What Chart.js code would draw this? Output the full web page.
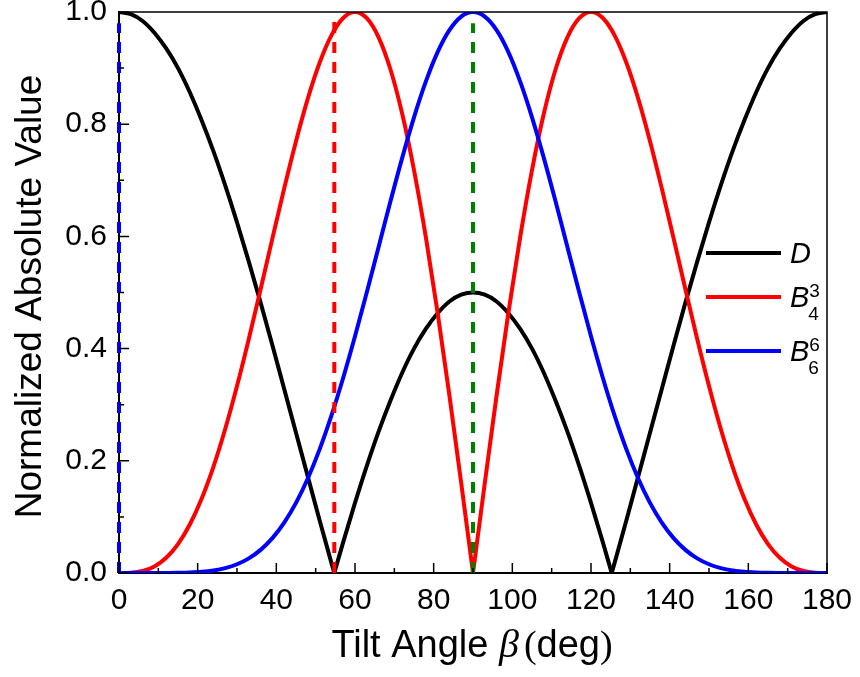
<!DOCTYPE html>
<html><head><meta charset="utf-8">
<script src="https://cdn.jsdelivr.net/npm/chart.js@4.4.1/dist/chart.umd.min.js"></script>
<style>html,body{margin:0;padding:0;background:#fff}#wrap{width:860px;height:677px}</style>
</head><body><div id="wrap"><canvas id="c" width="860" height="677"></canvas></div>
<script>
// ---- data ----
const angles = [0,3,6,9,12,15,18,21,24,27,30,33,36,39,42,45,48,51,54,57,60,63,66,69,72,75,78,81,84,87,90,93,96,99,102,105,108,111,114,117,120,123,126,129,132,135,138,141,144,147,150,153,156,159,162,165,168,171,174,177,180];
const valuesB4 = [0,0.0004,0.0035,0.0116,0.0271,0.0516,0.0864,0.1323,0.1893,0.2567,0.3333,0.4172,0.5059,0.5964,0.6856,0.7698,0.8456,0.9095,0.9584,0.9893,1,0.9889,0.9549,0.8979,0.8185,0.7182,0.5991,0.4641,0.3166,0.1605,0,0.1605,0.3166,0.4641,0.5991,0.7182,0.8185,0.8979,0.9549,0.9889,1,0.9893,0.9584,0.9095,0.8456,0.7698,0.6856,0.5964,0.5059,0.4172,0.3333,0.2567,0.1893,0.1323,0.0864,0.0516,0.0271,0.0116,0.0035,0.0004,0];
const valuesB6 = [0,0,0,0,0.0001,0.0003,0.0009,0.0021,0.0045,0.0088,0.0156,0.0261,0.0412,0.0621,0.0898,0.125,0.1684,0.2203,0.2804,0.348,0.4219,0.5004,0.5813,0.6621,0.74,0.8122,0.8758,0.9284,0.9676,0.9918,1,0.9918,0.9676,0.9284,0.8758,0.8122,0.74,0.6621,0.5813,0.5004,0.4219,0.348,0.2804,0.2203,0.1684,0.125,0.0898,0.0621,0.0412,0.0261,0.0156,0.0088,0.0045,0.0021,0.0009,0.0003,0.0001,0,0,0,0];
const anglesD = [0,3,6,9,12,15,18,21,24,27,30,33,36,39,42,45,48,51,54,54.74,57,60,63,66,69,72,75,78,81,84,87,90,93,96,99,102,105,108,111,114,117,120,123,125.26,126,129,132,135,138,141,144,147,150,153,156,159,162,165,168,171,174,177,180];
const valuesD = [1,0.996,0.984,0.963,0.935,0.9,0.857,0.807,0.752,0.691,0.625,0.555,0.482,0.406,0.328,0.25,0.172,0.094,0.018,0,0.055,0.125,0.191,0.252,0.307,0.357,0.4,0.435,0.463,0.484,0.496,0.5,0.496,0.484,0.463,0.435,0.4,0.357,0.307,0.252,0.191,0.125,0.055,0,0.018,0.094,0.172,0.25,0.328,0.406,0.482,0.555,0.625,0.691,0.752,0.807,0.857,0.9,0.935,0.963,0.984,0.996,1];
const markerAngles = [0, 54.74, 90];
const markerTops = [0.98, 0.985, 0.98];
const markerColors = ['#0000ff', '#ff0000', '#008000'];
const xMajorTicks = [0,20,40,60,80,100,120,140,160,180];
const xMinorTicks = [10,30,50,70,90,110,130,150,170];
const yMajorTicks = [0,0.2,0.4,0.6,0.8,1.0];
const yMinorTicks = [0.1,0.3,0.5,0.7,0.9];
const legendItems = [
  {base:'D', sup:'', sub:'', color:'#000000'},
  {base:'B', sup:'3', sub:'4', color:'#ff0000'},
  {base:'B', sup:'6', sub:'6', color:'#0000ff'}
];

const SANS = "'Liberation Sans', Arial, sans-serif";
const SERIF = "'Liberation Serif', 'Times New Roman', serif";

const toPts = (xs, ys) => xs.map((x, i) => ({x, y: ys[i]}));
// split a curve at its sharp zero-crossings (cusps) so each smooth branch is interpolated separately
function branches(xs, ys, cuspXs) {
  const pts = toPts(xs, ys);
  const out = [];
  let cur = [];
  pts.forEach(p => {
    cur.push(p);
    if (cuspXs.includes(p.x)) { out.push(cur); cur = [p]; }
  });
  if (cur.length > 1) out.push(cur);
  return out;
}

const markerSets = markerAngles.map((a, i) => ({
  data: [{x: a, y: 0}, {x: a, y: markerTops[i]}],
  borderColor: markerColors[i],
  borderWidth: 4,
  borderDash: [11, 9],
  pointRadius: 0,
  clip: false
}));

const curve = (data, color) => ({data, borderColor: color, borderWidth: 4, pointRadius: 0, cubicInterpolationMode: 'monotone'});

const datasets = [
  markerSets[2], markerSets[1], markerSets[0],
  ...branches(angles, valuesB6, []).map(d => curve(d, '#0000ff')),
  ...branches(angles, valuesB4, [90]).map(d => curve(d, '#ff0000')),
  ...branches(anglesD, valuesD, [54.74, 125.26]).map(d => curve(d, '#000000'))
];

const decor = {
  id: 'decor',
  afterDatasetsDraw(chart) {
    const {ctx, chartArea: a} = chart;
    ctx.save();
    ctx.strokeStyle = '#000';
    ctx.lineWidth = 1.5;
    ctx.beginPath();
    ctx.moveTo(a.left, a.top); ctx.lineTo(a.right, a.top); ctx.lineTo(a.right, a.bottom);
    ctx.stroke();
    ctx.restore();
  },
  afterDraw(chart) {
    const {ctx, chartArea: a, scales: {x, y}} = chart;
    ctx.save();
    ctx.strokeStyle = '#000';
    ctx.lineWidth = 1.5;
    ctx.beginPath();
    xMajorTicks.forEach(v => { const p = x.getPixelForValue(v); ctx.moveTo(p, a.bottom); ctx.lineTo(p, a.bottom - 10); });
    xMinorTicks.forEach(v => { const p = x.getPixelForValue(v); ctx.moveTo(p, a.bottom); ctx.lineTo(p, a.bottom - 5); });
    yMajorTicks.forEach(v => { const p = y.getPixelForValue(v); ctx.moveTo(a.left, p); ctx.lineTo(a.left + 10, p); });
    yMinorTicks.forEach(v => { const p = y.getPixelForValue(v); ctx.moveTo(a.left, p); ctx.lineTo(a.left + 5, p); });
    ctx.stroke();

    // y title
    ctx.fillStyle = '#000';
    ctx.save();
    ctx.translate(41, (a.top + a.bottom) / 2 + 4);
    ctx.rotate(-Math.PI / 2);
    ctx.font = '37px ' + SANS;
    ctx.textAlign = 'center';
    ctx.textBaseline = 'alphabetic';
    ctx.fillText('Normalized Absolute Value', 0, 0);
    ctx.restore();

    // x title (mixed fonts)
    const parts = [
      {t: 'Tilt Angle ', f: '38px ' + SANS, gap: 0},
      {t: '\u03B2', f: 'italic 40px ' + SERIF, gap: 5},
      {t: '(', f: '38px ' + SERIF, gap: 0},
      {t: 'deg', f: '38px ' + SANS, gap: 0},
      {t: ')', f: '38px ' + SERIF, gap: 0}
    ];
    let total = 0;
    parts.forEach(p => { ctx.font = p.f; p.w = ctx.measureText(p.t).width + p.gap; total += p.w; });
    let cx = 472 - total / 2;
    ctx.textAlign = 'left';
    ctx.textBaseline = 'alphabetic';
    parts.forEach(p => { ctx.font = p.f; ctx.fillText(p.t, cx, 657); cx += p.w; });

    // legend
    const ly = [253, 297, 351];
    legendItems.forEach((it, i) => {
      ctx.strokeStyle = it.color;
      ctx.lineWidth = 4;
      ctx.beginPath();
      ctx.moveTo(706, ly[i]); ctx.lineTo(781, ly[i]);
      ctx.stroke();
      ctx.fillStyle = '#000';
      ctx.font = 'italic 29px ' + SANS;
      ctx.fillText(it.base, 790, ly[i] + 10);
      const bw = ctx.measureText(it.base).width;
      ctx.font = '19px ' + SANS;
      if (it.sup) ctx.fillText(it.sup, 790 + bw, ly[i]);
      if (it.sub) ctx.fillText(it.sub, 790 + bw - 1, ly[i] + 23);
    });
    ctx.restore();
  }
};

new Chart(document.getElementById('c'), {
  type: 'line',
  data: {datasets},
  options: {
    responsive: false,
    animation: false,
    layout: {padding: {top: 12, right: 33, left: 0, bottom: 0}},
    plugins: {legend: {display: false}, tooltip: {enabled: false}},
    scales: {
      x: {
        type: 'linear', min: 0, max: 180,
        afterFit(s) { s.height = 104; s.paddingLeft = 0; s.paddingRight = 0; },
        grid: {display: false, drawTicks: false},
        border: {display: true, color: '#000', width: 2},
        ticks: {stepSize: 20, color: '#000', padding: 10, font: {family: SANS, size: 30}, maxRotation: 0}
      },
      y: {
        type: 'linear', min: 0, max: 1,
        afterFit(s) { s.width = 119; s.paddingTop = 0; s.paddingBottom = 0; },
        grid: {display: false, drawTicks: false},
        border: {display: true, color: '#000', width: 2},
        ticks: {stepSize: 0.2, color: '#000', padding: 12, font: {family: SANS, size: 30}, callback: v => v.toFixed(1)}
      }
    }
  },
  plugins: [decor]
});
</script>
</body></html>
